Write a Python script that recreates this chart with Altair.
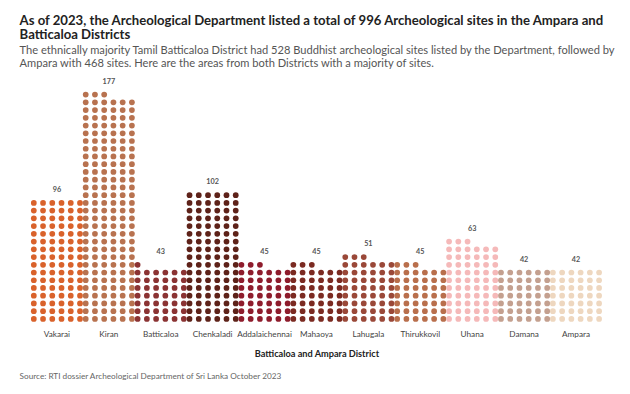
import altair as alt
import pandas as pd
import math

categories = ["Vakarai", "Kiran", "Batticaloa", "Chenkaladi", "Addalaichennai",
              "Mahaoya", "Lahugala", "Thirukkovil", "Uhana", "Damana", "Ampara"]
counts = [96, 177, 43, 102, 45, 45, 51, 45, 63, 42, 42]
colors = ["#d9622b", "#b8724f", "#8b3333", "#5e2219", "#8e1c2c", "#7b2a21",
          "#9a4838", "#b96f4c", "#f5b9b9", "#c4a08f", "#eed7bf"]

title_lines = ["As of 2023, the Archeological Department listed a total of 996 Archeological sites in the Ampara and",
               "Batticaloa Districts"]
subtitle_lines = ["The ethnically majority Tamil Batticaloa District had 528 Buddhist archeological sites listed by the Department, followed by",
                  "Ampara with 468 sites. Here are the areas from both Districts with a majority of sites."]
x_title = "Batticaloa and Ampara District"
source = "Source: RTI dossier Archeological Department of Sri Lanka October 2023"

PER_ROW = 6
FONT = "Lato"

rows = []
for cat, n in zip(categories, counts):
    for i in range(n):
        rows.append({"cat": cat, "col": i % PER_ROW, "row": i // PER_ROW})
dots = pd.DataFrame(rows)

labels = pd.DataFrame({
    "cat": categories,
    "count": counts,
    "top": [math.ceil(n / PER_ROW) - 1 + 1.65 for n in counts],
})

W, H = 590, 256

xscale = alt.Scale(domain=categories, paddingInner=0.11, paddingOuter=0.05)
yscale = alt.Scale(domain=[-0.5, 31.5], nice=False, zero=False)

base_x = alt.X("cat:N", scale=xscale, sort=categories,
               axis=alt.Axis(title=x_title, labelAngle=0, ticks=False, domain=False,
                             labelFont=FONT, labelFontSize=8.5, labelColor="#444",
                             labelPadding=7, titleFont=FONT, titleFontSize=9.5,
                             titleFontWeight="bold", titleColor="#222", titlePadding=11))

points = alt.Chart(dots).mark_circle(size=35, opacity=1).encode(
    x=base_x,
    xOffset=alt.XOffset("col:O", scale=alt.Scale(paddingInner=0, paddingOuter=0)),
    y=alt.Y("row:Q", scale=yscale, axis=None),
    color=alt.Color("cat:N", scale=alt.Scale(domain=categories, range=colors), legend=None),
)

texts = alt.Chart(labels).mark_text(font=FONT, fontSize=7.5, fontWeight="bold",
                                    color="#555", baseline="middle").encode(
    x=alt.X("cat:N", scale=xscale, sort=categories),
    y=alt.Y("top:Q", scale=yscale),
    text="count:Q",
)

head = pd.DataFrame({
    "t": title_lines + subtitle_lines,
    "kind": ["title", "title", "sub", "sub"],
    "yy": [-56, -41, -25, -12],
})

title_marks = alt.Chart(head).transform_filter(alt.datum.kind == "title").mark_text(
    font=FONT, fontSize=13.6, fontWeight="bold", color="#222", align="left", baseline="middle"
).encode(x=alt.value(-12), y=alt.Y("yy:Q", scale=None), text="t:N")

sub_marks = alt.Chart(head).transform_filter(alt.datum.kind == "sub").mark_text(
    font=FONT, fontSize=11.5, color="#555", align="left", baseline="middle"
).encode(x=alt.value(-12), y=alt.Y("yy:Q", scale=None), text="t:N")

src = alt.Chart(pd.DataFrame({"t": [source]})).mark_text(
    font=FONT, fontSize=8.5, color="#666", align="left", baseline="middle"
).encode(x=alt.value(-12), y=alt.value(H + 55), text="t:N")

chart = alt.layer(points, texts, title_marks, sub_marks, src).properties(
    width=W, height=H,
    padding={"left": 12, "right": 5, "top": 0, "bottom": 4},
).configure_view(stroke=None)

chart.save("out.html", embed_options={"renderer": "svg", "actions": False})
